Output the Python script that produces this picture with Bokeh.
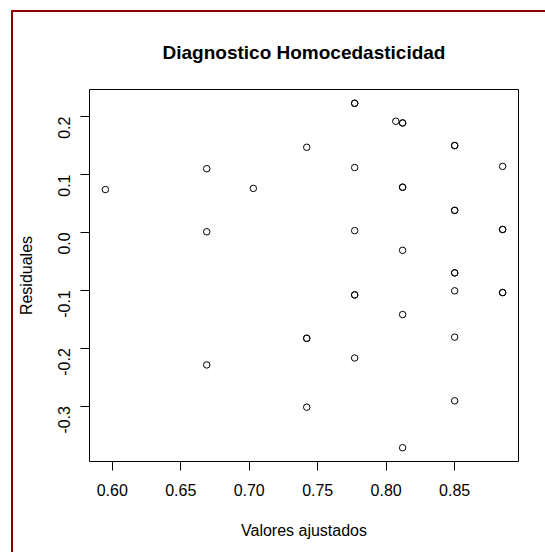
import math
from bokeh.plotting import figure
from bokeh.models import Range1d, FixedTicker, PrintfTickFormatter, ColumnDataSource
from bokeh.embed import file_html
from bokeh.resources import INLINE

# Data (duplicated points were drawn bold in the original)
valores_ajustados = [0.595, 0.669, 0.669, 0.669, 0.703,
                     0.742, 0.742, 0.742, 0.742,
                     0.777, 0.777, 0.777, 0.777, 0.777, 0.777, 0.777,
                     0.807, 0.812, 0.812, 0.812, 0.812, 0.812, 0.812, 0.812,
                     0.850, 0.850, 0.850, 0.850, 0.850, 0.850, 0.850, 0.850, 0.850,
                     0.885, 0.885, 0.885, 0.885, 0.885]
residuales = [0.074, 0.110, 0.001, -0.229, 0.076,
              0.147, -0.183, -0.183, -0.302,
              0.223, 0.223, 0.112, 0.003, -0.108, -0.108, -0.217,
              0.192, 0.189, 0.189, 0.078, 0.078, -0.031, -0.142, -0.372,
              0.150, 0.150, 0.038, 0.038, -0.070, -0.070, -0.101, -0.181, -0.291,
              0.114, 0.005, 0.005, -0.104, -0.104]

x_ticks = [0.60, 0.65, 0.70, 0.75, 0.80, 0.85]
y_ticks = [-0.3, -0.2, -0.1, 0.0, 0.1, 0.2]

titulo = "Diagnostico Homocedasticidad"
x_label = "Valores ajustados"
y_label = "Residuales"

FONT = "Liberation Sans"


def r_range(vals):
    lo, hi = min(vals), max(vals)
    pad = (hi - lo) * 0.04
    return Range1d(lo - pad, hi + pad)


p = figure(frame_width=429, frame_height=372,
           min_border_left=76, min_border_right=27,
           min_border_top=77, min_border_bottom=91,
           x_range=r_range(valores_ajustados), y_range=r_range(residuales),
           output_backend="svg", toolbar_location=None,
           background_fill_color="white", border_fill_color="white")

p.styles = {"margin-left": "11px", "margin-top": "10px",
            "border-left": "2px solid #8B0000", "border-top": "2px solid #8B0000"}

p.xgrid.visible = False
p.ygrid.visible = False
p.outline_line_color = "black"
p.outline_line_width = 1
p.outline_line_alpha = 1.0

src = ColumnDataSource(dict(x=valores_ajustados, y=residuales))
p.scatter("x", "y", source=src, marker="circle", size=6.5,
          fill_color=None, line_color="black", line_width=1)

p.title.text = titulo
p.title.align = "center"
p.title.text_font = FONT
p.title.text_font_size = "19px"
p.title.text_font_style = "bold"
p.title.text_color = "black"
p.title.standoff = 54

for ax, ticks, fmt in ((p.xaxis[0], x_ticks, "%.2f"), (p.yaxis[0], y_ticks, "%.1f")):
    ax.ticker = FixedTicker(ticks=ticks)
    ax.formatter = PrintfTickFormatter(format=fmt)
    ax.axis_line_color = None
    ax.major_tick_line_color = "black"
    ax.major_tick_out = 9
    ax.major_tick_in = 0
    ax.minor_tick_line_color = None
    ax.major_label_text_font = FONT
    ax.major_label_text_font_size = "16px"
    ax.major_label_text_color = "black"
    ax.axis_label_text_font = FONT
    ax.axis_label_text_font_size = "16px"
    ax.axis_label_text_font_style = "normal"
    ax.axis_label_text_color = "black"

p.xaxis.axis_label = x_label
p.yaxis.axis_label = y_label
p.xaxis.major_label_standoff = 13
p.xaxis.axis_label_standoff = 23
p.yaxis.major_label_standoff = 16
p.yaxis.major_label_orientation = math.pi / 2
p.yaxis.axis_label_standoff = 15

open("out.html", "w").write(file_html(p, INLINE))
